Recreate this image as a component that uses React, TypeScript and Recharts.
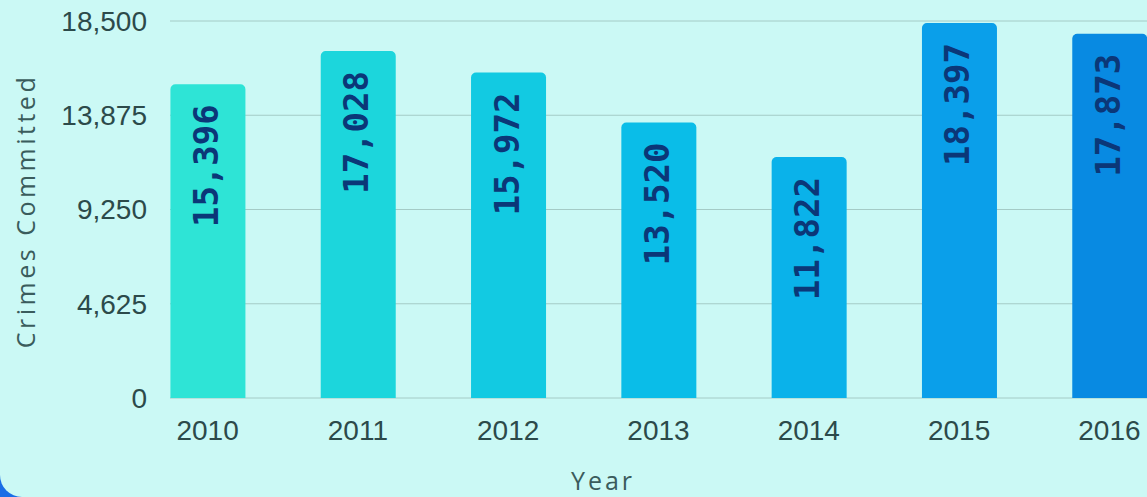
import { BarChart, Bar, XAxis, YAxis, CartesianGrid, Cell, LabelList, Label } from "recharts";

const years = [2010, 2011, 2012, 2013, 2014, 2015, 2016];
const crimes = [15396, 17028, 15972, 13520, 11822, 18397, 17873];
const barColors = ["#2ee4d6", "#1cd6dc", "#12cae2", "#0abde8", "#0ab2ea", "#0a9fea", "#088ae2"];
const yTicks = [0, 4625, 9250, 13875, 18500];

const data = years.map((year, i) => ({ year, crimes: crimes[i] }));

const BG = "#cbf9f5";
const TICK_COLOR = "#2c4a4a";
const TITLE_COLOR = "#3a5c5c";

const renderBarLabel = (props: any) => {
  const { x, y, width, value } = props;
  const cx = x + width / 2 + 10;
  const ty = y + 20;
  return (
    <text
      x={cx}
      y={ty}
      transform={`rotate(-90, ${cx}, ${ty})`}
      textAnchor="end"
      fill="#0b3778"
      fontSize={34}
      fontWeight="bold"
      fontFamily="'DejaVu Sans Mono', monospace"
    >
      {Number(value).toLocaleString("en-US")}
    </text>
  );
};

export default function App() {
  return (
    <div style={{ position: "fixed", left: 0, top: 0, width: 1147, height: 497, overflow: "hidden", background: "#1a6ee6" }}>
      <div style={{ position: "absolute", left: 0, top: 0, width: 1147, height: 497, background: BG, borderBottomLeftRadius: 22 }}>
        <BarChart width={1147} height={497} data={data} margin={{ top: 21, right: 0, bottom: 0, left: 0 }}>
          <CartesianGrid horizontal vertical={false} stroke="#a4cbc6" />
          <XAxis
            type="number"
            dataKey="year"
            domain={[2009.75, 2016.25]}
            ticks={years}
            interval={0}
            height={99}
            axisLine={false}
            tickLine={false}
            tickSize={0}
            tickMargin={22}
            tick={{ fill: TICK_COLOR, fontSize: 28, fontFamily: "'Liberation Sans', Arial, sans-serif" }}
          >
            <Label
              content={() => (
                <text x={603} y={490} textAnchor="middle" fill={TITLE_COLOR} fontSize={25} letterSpacing={3}
                  fontFamily="'Open Sans', sans-serif">
                  Year
                </text>
              )}
            />
          </XAxis>
          <YAxis
            width={170}
            domain={[0, 18500]}
            ticks={yTicks}
            interval={0}
            axisLine={false}
            tickLine={false}
            tickSize={0}
            tickMargin={23}
            tickFormatter={(v: number) => v.toLocaleString("en-US")}
            tick={{ fill: TICK_COLOR, fontSize: 28, fontFamily: "'Liberation Sans', Arial, sans-serif" }}
          >
            <Label
              content={() => (
                <text x={25} y={211} transform="rotate(-90, 25, 211)" textAnchor="middle" dominantBaseline="central"
                  fill={TITLE_COLOR} fontSize={25} letterSpacing={3.5} fontFamily="'Open Sans', sans-serif">
                  Crimes Committed
                </text>
              )}
            />
          </YAxis>
          <Bar dataKey="crimes" barSize={75} radius={[5, 5, 0, 0]} isAnimationActive={false}>
            {data.map((d, i) => (
              <Cell key={d.year} fill={barColors[i]} />
            ))}
            <LabelList dataKey="crimes" content={renderBarLabel} />
          </Bar>
        </BarChart>
      </div>
    </div>
  );
}
